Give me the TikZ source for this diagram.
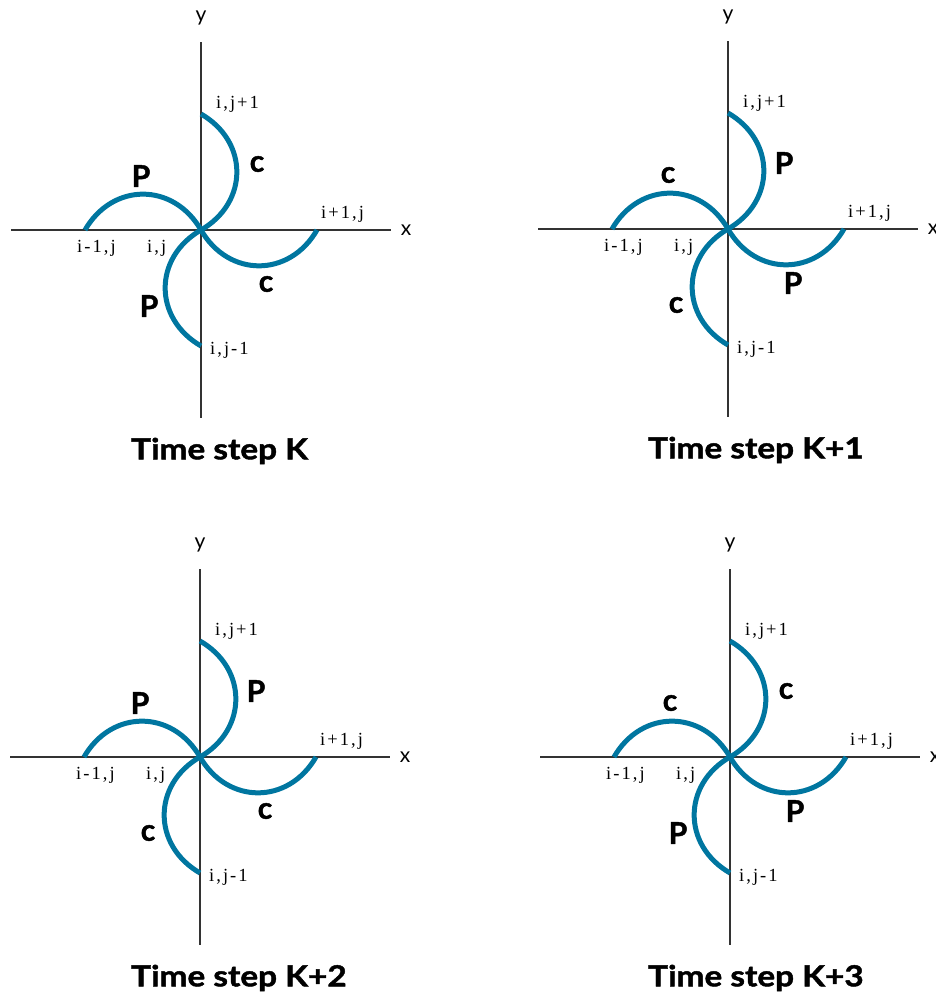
\documentclass[tikz,border=0pt]{standalone}
\usepackage{fontspec}
\setmainfont{Liberation Serif}
\setsansfont{Lato}
\usetikzlibrary{positioning}
\definecolor{pipeblue}{RGB}{0,118,160}
\tikzset{
    axis/.style = {
        draw = black!80,
        line width = 1.8pt,
        },
    pipe/.style = {
        draw = pipeblue,
        line width = 5pt,
        },
    index/.style = {
        inner sep = 0pt,
        anchor = base west,
        font = \fontsize{18.5}{18.5}\selectfont\addfontfeatures{LetterSpace=11},
        },
    axis label/.style = {
        inner sep = 0pt,
        font = \sffamily\fontsize{21}{21}\selectfont,
        },
    flow/.style = {
        inner sep = 0pt,
        font = \sffamily\bfseries\fontsize{30}{30}\selectfont\addfontfeatures{FakeBold=1.5},
        },
    caption/.style = {
        inner sep = 0pt,
        anchor = west,
        font = \sffamily\bfseries\fontsize{29}{29}\selectfont\addfontfeatures{FakeBold=1.5,FakeStretch=1.15},
        },
}

\begin{document}
\begin{tikzpicture}[x=1pt, y=1pt]
    \useasboundingbox (0,0) rectangle (935,996);
    \foreach \k/\ox/\oy/\tx/\tstep/\ltop/\lleft/\lright/\lbot in {
        1/201/766/-70/K/c/P/c/P,
        2/728/767/-80/K+1/P/c/P/c,
        3/200/239/-69/K+2/P/P/c/c,
        4/730/239/-82/K+3/c/c/P/P} {
        \begin{scope}[shift={(\ox,\oy)}]
            \coordinate (O\k) at (0,0);
            \coordinate (N\k) at (0,116);
            \coordinate (W\k) at (-116,0);
            \coordinate (S\k) at (0,-116);
            \coordinate (E\k) at (116,0);
            \coordinate (XL\k) at (-190,0);
            \coordinate (XR\k) at (190,0);
            \coordinate (YB\k) at (0,-188);
            \coordinate (YT\k) at (0,188);

            \draw[axis] (XL\k) -- (XR\k);
            \draw[axis] (YB\k) -- (YT\k);
            \node[axis label] (x\k) at (205,0) {x};
            \node[axis label] (y\k) at (0,212) {y};

            \draw[pipe] (N\k) to[out=-30, in=30, looseness=1.22] (O\k);
            \draw[pipe] (W\k) to[out=60, in=120, looseness=1.22] (O\k);
            \draw[pipe] (S\k) to[out=150, in=210, looseness=1.22] (O\k);
            \draw[pipe] (E\k) to[out=240, in=300, looseness=1.22] (O\k);

            \node[index] (ijp\k) at (15,121) {i,j+1};
            \node[index] (ipj\k) at (120,11) {i+1,j};
            \node[index] (imj\k) at (-124,-23) {i-1,j};
            \node[index] (ij\k) at (-54,-23) {i,j};
            \node[index] (ijm\k) at (9,-125) {i,j-1};

            \node[flow] (ft\k) at (56,66) {\ltop};
            \node[flow] (fl\k) at (-60,54) {\lleft};
            \node[flow] (fr\k) at (65,-54) {\lright};
            \node[flow] (fb\k) at (-52,-76) {\lbot};

            \node[caption] (t\k) at (\tx,-221) {Time step \tstep};
        \end{scope}
    }
\end{tikzpicture}
\end{document}
